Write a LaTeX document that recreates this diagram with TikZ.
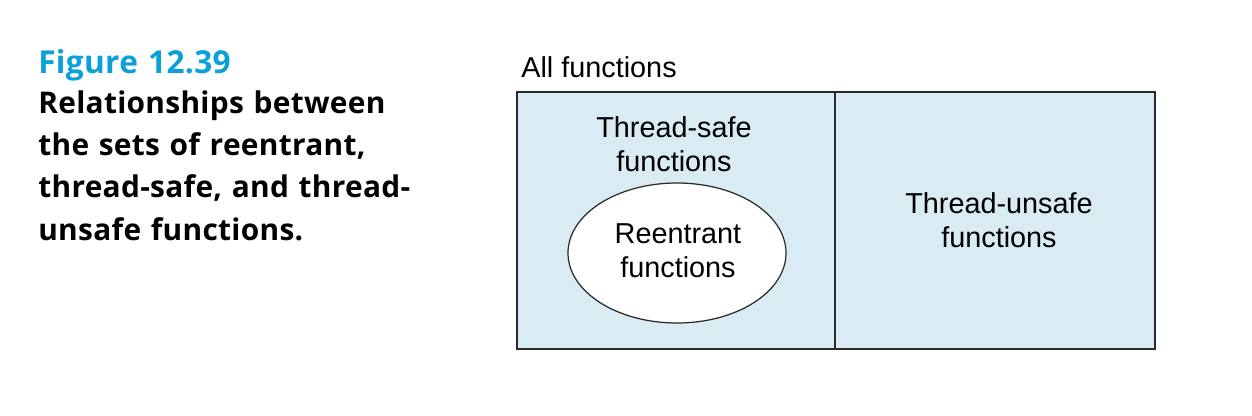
\documentclass[tikz,border=0pt]{standalone}
\usepackage{fontspec}
\newfontfamily\setfont{Liberation Sans}
\newfontfamily\capfont{Open Sans}[LetterSpace=1,WordSpace=1.2]
\definecolor{setblue}{HTML}{D9EBF3}
\definecolor{figblue}{HTML}{0AA0D8}
\definecolor{setline}{HTML}{2A2A2A}
\tikzset{setarea/.style={draw=setline,fill=setblue,line width=0.8pt}}
\tikzset{reentrant/.style={draw=setline,fill=white,line width=0.7pt}}
\tikzset{setlabel/.style={inner sep=0pt,align=center,font=\setfont\fontsize{16.4}{18.8}\selectfont}}
\tikzset{captext/.style={inner sep=0pt,anchor=base west,align=left,font=\capfont\bfseries\fontsize{17}{24}\selectfont}}

\begin{document}
\begin{tikzpicture}[x=0.02cm,y=-0.02cm]
	\useasboundingbox (0,0) rectangle (1252,416);

	% caption (base = last line)
	\node[captext,text=figblue,font=\capfont\bfseries\fontsize{18}{20}\selectfont] (fig) at (38,73) {Figure 12.39};
	\node[captext] (cap) at (38,240) {Relationships between\\the sets of reentrant,\\thread-safe, and thread-\\unsafe functions.};

	% the two sets
	\draw[setarea] (517,92) rectangle (835,349);
	\draw[setarea] (835,92) rectangle (1155,349);
	\draw[reentrant] (677,253) ellipse (109 and 70);

	\node[setlabel,anchor=base west] (all) at (521,77) {All functions};
	\node[setlabel,anchor=base] (safe) at (674,171) {Thread-safe\\functions};
	\node[setlabel,anchor=base] (reent) at (678,277) {Reentrant\\functions};
	\node[setlabel,anchor=base] (unsafe) at (999,247) {Thread-unsafe\\functions};
\end{tikzpicture}
\end{document}
